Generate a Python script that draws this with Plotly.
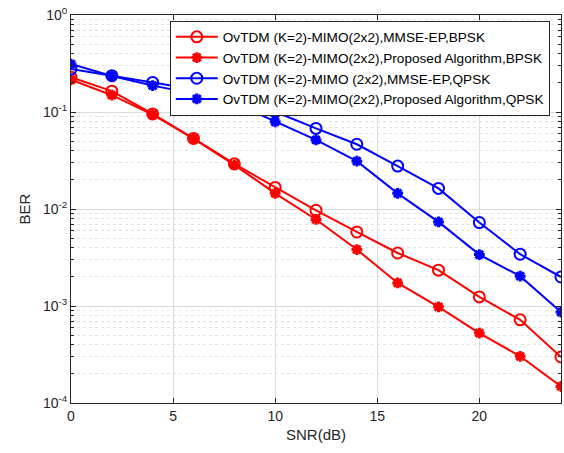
import plotly.graph_objects as go

snr = [0, 2, 4, 6, 8, 10, 12, 14, 16, 18, 20, 22, 24]

ber_mmse_bpsk = [0.228, 0.164, 0.0955, 0.0534, 0.0292, 0.0167, 0.0097, 0.0058, 0.00352, 0.00234, 0.00124, 0.00072, 0.000298]
ber_prop_bpsk = [0.215, 0.149, 0.094, 0.0530, 0.0285, 0.0145, 0.0078, 0.00382, 0.00173, 0.00098, 0.000526, 0.000303, 0.000148]
ber_mmse_qpsk = [0.277, 0.237, 0.202, 0.172, 0.145, 0.1005, 0.0677, 0.0465, 0.0277, 0.0163, 0.00725, 0.00342, 0.00199]
ber_prop_qpsk = [0.312, 0.235, 0.187, 0.155, 0.124, 0.0793, 0.0515, 0.0311, 0.0145, 0.00736, 0.00339, 0.00203, 0.000867]

names = [
    "OvTDM (K=2)-MIMO(2x2),MMSE-EP,BPSK",
    "OvTDM (K=2)-MIMO(2x2),Proposed Algorithm,BPSK",
    "OvTDM (K=2)-MIMO (2x2),MMSE-EP,QPSK",
    "OvTDM (K=2)-MIMO(2x2),Proposed Algorithm,QPSK",
]

x_ticks = [0, 5, 10, 15, 20]
y_tickvals = [1e-4, 1e-3, 1e-2, 1e-1, 1]
y_ticktext = ["10<sup>-4</sup>", "10<sup>-3</sup>", "10<sup>-2</sup>", "10<sup>-1</sup>", "10<sup>0</sup>"]

series = [
    (ber_mmse_bpsk, "#ff0000", "circle-open"),
    (ber_prop_bpsk, "#ff0000", "asterisk-open"),
    (ber_mmse_qpsk, "#0000ff", "circle-open"),
    (ber_prop_qpsk, "#0000ff", "asterisk-open"),
]

fig = go.Figure()
for (vals, col, sym), nm in zip(series, names):
    fig.add_trace(go.Scatter(
        x=snr, y=vals, name=nm, mode="lines+markers",
        line=dict(color=col, width=2),
        marker=dict(symbol=sym, size=11 if sym == "circle-open" else 9,
                    color=col, line=dict(color=col, width=2 if sym == "circle-open" else 3)),
        cliponaxis=True,
    ))

axis_col = "#262626"
font_fam = "Liberation Sans, Arial, sans-serif"

fig.update_layout(
    width=564, height=453,
    margin=dict(l=71, r=3, t=15, b=50, autoexpand=False),
    paper_bgcolor="white", plot_bgcolor="white",
    font=dict(family=font_fam, size=14, color=axis_col),
    showlegend=True,
    legend=dict(
        x=0.2016, y=0.9858, xanchor="left", yanchor="top",
        bgcolor="white", bordercolor="#262626", borderwidth=1,
        font=dict(family=font_fam, size=13.6, color="#000000"),
        itemwidth=42, tracegroupgap=0,
    ),
    xaxis=dict(
        range=[0, 24], tickvals=x_ticks, ticks="inside", ticklen=5, tickcolor=axis_col,
        showline=True, linecolor=axis_col, linewidth=1, mirror="ticks",
        showgrid=True, gridcolor="#dcdcdc", gridwidth=1, zeroline=False,
        title=dict(text="SNR(dB)", font=dict(size=15), standoff=6),
        tickfont=dict(size=14), automargin=False,
    ),
    yaxis=dict(
        type="log", range=[-4, 0], tickvals=y_tickvals, ticktext=y_ticktext,
        ticks="inside", ticklen=5, tickcolor=axis_col,
        showline=True, linecolor=axis_col, linewidth=1, mirror="ticks",
        showgrid=True, gridcolor="#dcdcdc", gridwidth=1, zeroline=False,
        minor=dict(dtick="D1", showgrid=True, gridcolor="#e3e3e3", griddash="dot",
                   ticks="inside", ticklen=3, tickcolor=axis_col),
        title=dict(text="BER", font=dict(size=15), standoff=8),
        tickfont=dict(size=14), automargin=False, ticklabeloverflow="allow",
    ),
)

fig.write_html(
    "out.html",
    config={"displayModeBar": False},
    post_script="document.body.style.margin='0px';document.body.style.overflow='hidden';",
)
